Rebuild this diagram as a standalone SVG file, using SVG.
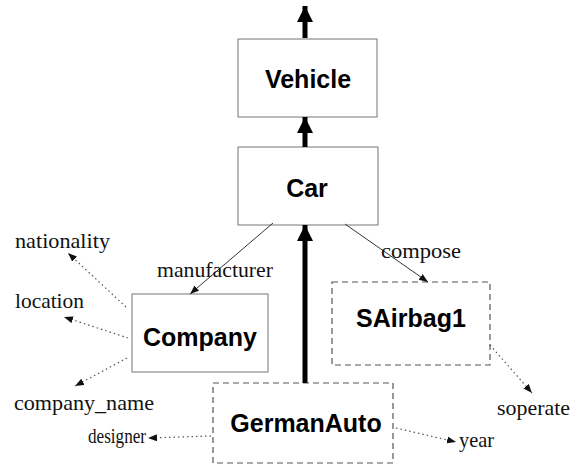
<svg xmlns="http://www.w3.org/2000/svg" width="580" height="465" viewBox="0 0 580 465">
<style>
.box{fill:#fff;stroke:#777;stroke-width:1}
.dbox{fill:#fff;stroke:#555;stroke-width:1.2;stroke-dasharray:6,4}
.nt{font-family:"Liberation Sans",Arial,sans-serif;font-weight:bold;font-size:25px;fill:#000;text-anchor:middle}
.lb{font-family:"Liberation Serif","Times New Roman",serif;font-size:21px;fill:#111}
.thick{stroke:#000;stroke-width:5;fill:none}
.thin{stroke:#333;stroke-width:1;fill:none}
.dot{stroke:#555;stroke-width:1.2;stroke-dasharray:1.5,3;fill:none}
</style>
<defs>
<marker id="big" markerUnits="userSpaceOnUse" markerWidth="18" markerHeight="18" refX="16" refY="8" orient="auto">
<path d="M0,0 L16,8 L0,16 Z" fill="#000"/>
</marker>
<marker id="sm" markerUnits="userSpaceOnUse" markerWidth="10" markerHeight="8" refX="9" refY="3.5" orient="auto">
<path d="M0,0 L9,3.5 L0,7 Z" fill="#111"/>
</marker>
</defs>
<g id="vehicle"><rect class="box" x="238" y="39" width="139" height="78"/><text class="nt" x="308" y="88">Vehicle</text></g>
<g id="car"><rect class="box" x="238" y="147" width="140" height="78"/><text class="nt" x="307" y="197">Car</text></g>
<g id="company"><rect class="box" x="132" y="294" width="136" height="78"/><text class="nt" x="200" y="346">Company</text></g>
<g id="sairbag1"><rect class="dbox" x="332" y="282" width="158" height="83"/><text class="nt" x="411" y="327">SAirbag1</text></g>
<g id="germanauto"><rect class="dbox" x="213" y="383" width="180" height="80"/><text class="nt" x="306" y="432">GermanAuto</text></g>
<g id="connectors">
<line class="thick" x1="305" y1="38" x2="305" y2="6" marker-end="url(#big)"/>
<line class="thick" x1="305" y1="147" x2="305" y2="117" marker-end="url(#big)"/>
<line class="thick" x1="305" y1="383" x2="305" y2="225" marker-end="url(#big)"/>
<line class="thin" x1="273" y1="223" x2="190" y2="294" marker-end="url(#sm)"/>
<line class="thin" x1="345" y1="224" x2="428" y2="282" marker-end="url(#sm)"/>
<line class="dot" x1="126" y1="307" x2="68" y2="253" marker-end="url(#sm)"/>
<line class="dot" x1="128" y1="338" x2="64" y2="317" marker-end="url(#sm)"/>
<line class="dot" x1="127" y1="358" x2="75" y2="386" marker-end="url(#sm)"/>
<line class="dot" x1="211" y1="436" x2="148" y2="438" marker-end="url(#sm)"/>
<line class="dot" x1="396" y1="428" x2="456" y2="442" marker-end="url(#sm)"/>
<line class="dot" x1="490" y1="345" x2="532" y2="393" marker-end="url(#sm)"/>
<text class="lb" x="157" y="277" textLength="116" lengthAdjust="spacingAndGlyphs">manufacturer</text>
<text class="lb" x="381" y="258" textLength="80" lengthAdjust="spacingAndGlyphs">compose</text>
</g>
<text class="lb" x="15" y="248" textLength="95" lengthAdjust="spacingAndGlyphs">nationality</text>
<text class="lb" x="15" y="308" textLength="69" lengthAdjust="spacingAndGlyphs">location</text>
<text class="lb" x="14" y="410" textLength="140" lengthAdjust="spacingAndGlyphs">company_name</text>
<text class="lb" x="88" y="443" textLength="58" lengthAdjust="spacingAndGlyphs">designer</text>
<text class="lb" x="497" y="415" textLength="73" lengthAdjust="spacingAndGlyphs">soperate</text>
<text class="lb" x="459" y="447" textLength="35" lengthAdjust="spacingAndGlyphs">year</text>
</svg>
